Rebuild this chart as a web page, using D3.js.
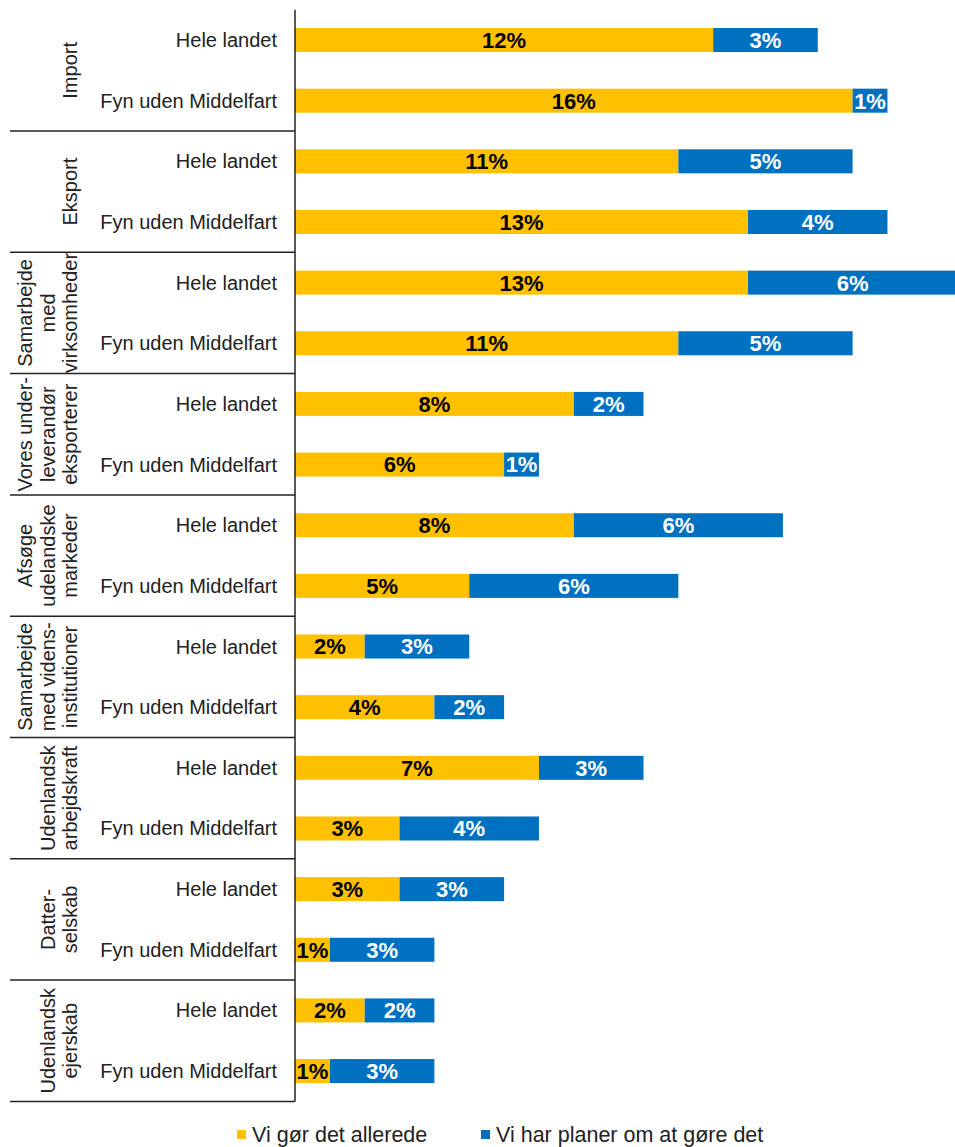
<!DOCTYPE html>
<html>
<head>
<meta charset="utf-8">
<script src="https://cdn.jsdelivr.net/npm/d3@7"></script>
<style>
  body { margin: 0; background: #fff; }
  svg { display: block; font-family: "Liberation Sans", Arial, sans-serif; }
</style>
</head>
<body>
<div id="vis"></div>
<script>
// chart data
var groupLabels = [
  ['Import'],
  ['Eksport'],
  ['Samarbejde', 'med', 'virksomheder'],
  ['Vores under-', 'leverandør', 'eksporterer'],
  ['Afsøge', 'udelandske', 'markeder'],
  ['Samarbejde', 'med videns-', 'institutioner'],
  ['Udenlandsk', 'arbejdskraft'],
  ['Datter-', 'selskab'],
  ['Udenlandsk', 'ejerskab']
];
var categories = ['Hele landet', 'Fyn uden Middelfart'];
var seriesNames = ['Vi gør det allerede', 'Vi har planer om at gøre det'];
// one value per row, two rows (Hele landet, Fyn) per group
var allerede = [12, 16, 11, 13, 13, 11, 8, 6, 8, 5, 2, 4, 7, 3, 3, 1, 2, 1];
var planer = [3, 1, 5, 4, 6, 5, 2, 1, 6, 6, 3, 2, 3, 4, 3, 3, 2, 3];

var colors = ['#FFC000', '#0070C0'];

var width = 955, height = 1147;
var axisX = 295;
var plotTop = 9.7, plotBottom = 1101.4;

var svg = d3.select('#vis').append('svg')
  .attr('width', width)
  .attr('height', height);

// build rows
var rows = allerede.map(function(v, i) {
  return {
    i: i,
    group: Math.floor(i / 2),
    cat: categories[i % 2],
    a: v,
    p: planer[i]
  };
});

var x = d3.scaleLinear()
  .domain([0, 20])
  .range([axisX, axisX + 20 * 34.85]);

var y = d3.scaleBand()
  .domain(d3.range(rows.length))
  .range([plotTop, plotBottom])
  .paddingInner(0.604)
  .paddingOuter(0.302);

// stacked segments
var stack = d3.stack().keys(['a', 'p']);
var stacked = stack(rows);

var layers = svg.selectAll('g.layer')
  .data(stacked)
  .enter().append('g')
  .attr('class', 'layer')
  .attr('fill', function(d, i) { return colors[i]; });

layers.selectAll('rect')
  .data(function(d) { return d; })
  .enter().append('rect')
  .attr('x', function(d) { return x(d[0]); })
  .attr('y', function(d) { return y(d.data.i); })
  .attr('width', function(d) { return x(d[1]) - x(d[0]); })
  .attr('height', y.bandwidth());

layers.selectAll('text')
  .data(function(d) { return d; })
  .enter().append('text')
  .attr('x', function(d) { return (x(d[0]) + x(d[1])) / 2; })
  .attr('y', function(d) { return y(d.data.i) + y.bandwidth() / 2; })
  .attr('dy', '0.36em')
  .attr('text-anchor', 'middle')
  .attr('font-size', 22)
  .attr('font-weight', 'bold')
  .attr('fill', function(d) { return d3.select(this.parentNode).datum().key === 'a' ? '#000' : '#fff'; })
  .text(function(d) { return (d[1] - d[0]) + '%'; });

// category labels
svg.append('g').selectAll('text')
  .data(rows)
  .enter().append('text')
  .attr('x', 277)
  .attr('y', function(d) { return y(d.i) + y.bandwidth() / 2; })
  .attr('dy', '0.35em')
  .attr('text-anchor', 'end')
  .attr('font-size', 20)
  .attr('fill', '#222')
  .text(function(d) { return d.cat; });

// group separators
var groupStep = 2 * y.step();
svg.append('g').selectAll('line')
  .data(d3.range(1, groupLabels.length + 1))
  .enter().append('line')
  .attr('x1', 10)
  .attr('x2', axisX)
  .attr('y1', function(k) { return plotTop + k * groupStep; })
  .attr('y2', function(k) { return plotTop + k * groupStep; })
  .attr('stroke', '#222')
  .attr('stroke-width', 1.5);

// axis line
svg.append('line')
  .attr('x1', axisX).attr('x2', axisX)
  .attr('y1', plotTop).attr('y2', plotBottom)
  .attr('stroke', '#222')
  .attr('stroke-width', 1.5);

// rotated group labels
var gl = svg.append('g').selectAll('g')
  .data(groupLabels)
  .enter().append('g')
  .attr('transform', function(d, k) {
    return 'translate(0,' + (plotTop + (k + 0.5) * groupStep) + ')';
  });

gl.selectAll('text')
  .data(function(d) { return d.map(function(t, j) { return { t: t, j: j, n: d.length }; }); })
  .enter().append('text')
  .attr('transform', function(d) {
    var cx = 70 - (d.n - 1 - d.j) * 22.5;
    return 'translate(' + cx + ',0) rotate(-90)';
  })
  .attr('dy', '0.35em')
  .attr('text-anchor', 'middle')
  .attr('font-size', 20)
  .attr('fill', '#222')
  .text(function(d) { return d.t; });

// legend
var legendX = [237, 481];
var lg = svg.append('g').selectAll('g')
  .data(seriesNames)
  .enter().append('g')
  .attr('transform', function(d, i) { return 'translate(' + legendX[i] + ',1134)'; });

lg.append('rect')
  .attr('x', 0).attr('y', -4)
  .attr('width', 9).attr('height', 9)
  .attr('fill', function(d, i) { return colors[i]; });

lg.append('text')
  .attr('x', 15)
  .attr('dy', '0.35em')
  .attr('font-size', 21.5)
  .attr('fill', '#222')
  .text(function(d) { return d; });
</script>
</body>
</html>
